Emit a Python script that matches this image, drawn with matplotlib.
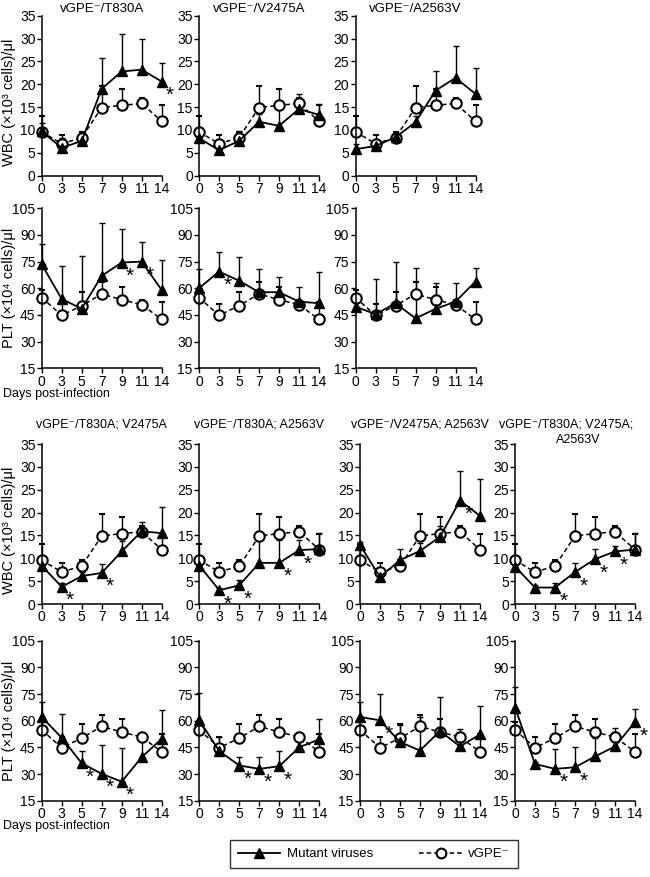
import numpy as np
import matplotlib.pyplot as plt
from matplotlib.lines import Line2D

plt.rcParams['font.family'] = ['Liberation Sans', 'DejaVu Sans']

days = [0, 3, 5, 7, 9, 11, 14]

# vGPE- control (same in every panel)
ctrl_wbc = [9.6, 7.0, 8.3, 14.9, 15.4, 15.8, 11.9]
ctrl_wbc_top = [13.1, 9.0, 9.6, 19.7, 19.0, 17.1, 15.4]
ctrl_plt = [54.8, 44.8, 50.2, 56.8, 53.6, 50.8, 42.5]
ctrl_plt_top = [59.0, 51.0, 58.0, 63.4, 60.8, 53.2, 52.5]

# mutant viruses
t830a_wbc = [9.7, 6.1, 7.6, 19.0, 22.8, 23.2, 20.6]
t830a_wbc_top = [11.5, 8.3, 9.2, 25.8, 31.1, 30.0, 24.7]
t830a_plt = [73.5, 54.0, 48.5, 67.0, 74.5, 75.0, 59.0]
t830a_plt_top = [85.0, 72.5, 78.0, 96.5, 93.5, 86.0, 76.0]

v2475a_wbc = [8.2, 5.6, 7.6, 11.8, 10.9, 14.6, 13.3]
v2475a_wbc_top = [9.3, 6.5, 9.8, 13.5, 14.5, 17.8, 15.6]
v2475a_plt = [60.0, 69.4, 64.3, 57.8, 57.8, 52.5, 51.6]
v2475a_plt_top = [70.9, 80.6, 77.8, 70.9, 66.2, 60.6, 69.4]

a2563v_wbc = [5.8, 6.5, 8.4, 11.7, 18.6, 21.4, 17.9]
a2563v_wbc_top = [7.0, 7.5, 9.3, 13.0, 23.0, 28.4, 23.6]
a2563v_plt = [49.7, 45.4, 51.6, 43.1, 48.4, 52.5, 63.8]
a2563v_plt_top = [52.0, 65.0, 75.0, 71.3, 63.2, 62.8, 71.3]

t830a_v2475a_wbc = [8.4, 3.75, 6.1, 6.8, 11.5, 15.9, 15.5]
t830a_v2475a_wbc_top = [10.0, 4.5, 7.0, 8.8, 13.7, 18.0, 21.3]
t830a_v2475a_plt = [62.1, 50.4, 36.1, 30.1, 25.7, 39.5, 49.8]
t830a_v2475a_plt_top = [70.6, 64.0, 43.2, 46.6, 44.8, 49.5, 65.8]

t830a_a2563v_wbc = [8.4, 3.0, 4.1, 9.0, 9.0, 11.8, 12.0]
t830a_a2563v_wbc_top = [10.0, 3.5, 5.2, 14.1, 14.1, 14.0, 15.5]
t830a_a2563v_plt = [60.2, 42.9, 34.8, 32.9, 34.4, 45.1, 49.5]
t830a_a2563v_plt_top = [75.5, 50.8, 39.5, 39.5, 43.2, 53.0, 60.8]

v2475a_a2563v_wbc = [12.9, 5.9, 9.6, 11.6, 14.7, 22.6, 19.3]
v2475a_a2563v_wbc_top = [13.5, 6.5, 12.0, 13.3, 17.1, 29.0, 27.3]
v2475a_a2563v_plt = [62.1, 60.2, 48.0, 43.2, 54.2, 45.5, 52.3]
v2475a_a2563v_plt_top = [70.6, 74.9, 57.4, 62.1, 73.4, 55.5, 68.3]

triple_wbc = [8.2, 3.6, 3.6, 7.0, 9.8, 11.5, 11.9]
triple_wbc_top = [9.0, 4.2, 4.6, 9.0, 12.1, 12.7, 15.5]
triple_plt = [67.4, 35.7, 32.9, 33.8, 39.9, 45.5, 59.3]
triple_plt_top = [79.0, 37.0, 44.2, 45.1, 50.0, 56.0, 66.8]

# day indices marked with *
stars_wbc = [[6], [], [], [1, 3], [1, 2, 4, 5], [5], [2, 3, 4, 5]]
stars_plt = [[4, 5], [1], [], [2, 3, 4], [2, 3, 4], [1], [2, 3, 6]]

titles = ["vGPE\u207b/T830A", "vGPE\u207b/V2475A", "vGPE\u207b/A2563V",
          "vGPE\u207b/T830A; V2475A", "vGPE\u207b/T830A; A2563V",
          "vGPE\u207b/V2475A; A2563V", "vGPE\u207b/T830A; V2475A;"]
wbc = [t830a_wbc, v2475a_wbc, a2563v_wbc, t830a_v2475a_wbc, t830a_a2563v_wbc,
       v2475a_a2563v_wbc, triple_wbc]
wbc_top = [t830a_wbc_top, v2475a_wbc_top, a2563v_wbc_top, t830a_v2475a_wbc_top,
           t830a_a2563v_wbc_top, v2475a_a2563v_wbc_top, triple_wbc_top]
plt_vals = [t830a_plt, v2475a_plt, a2563v_plt, t830a_v2475a_plt, t830a_a2563v_plt,
            v2475a_a2563v_plt, triple_plt]
plt_top = [t830a_plt_top, v2475a_plt_top, a2563v_plt_top, t830a_v2475a_plt_top,
           t830a_a2563v_plt_top, v2475a_a2563v_plt_top, triple_plt_top]

W, H = 650, 877
fig = plt.figure(figsize=(6.5, 8.77), dpi=100)

lefts = [41.7, 199, 355.5, 41.7, 199.3, 360, 515]
wbc_tops = [15.7] * 3 + [444] * 4
plt_tops = [208.3] * 3 + [640.7] * 4
aw, ah = 120, 160


def add_ax(left, top):
    return fig.add_axes([left / W, 1 - (top + ah) / H, aw / W, ah / H])


def draw(ax, mut, mut_top, ctrl, ctrl_top, stars, ylim, yticks):
    x = np.arange(len(days))
    ctrl = np.array(ctrl)
    mut = np.array(mut)
    ax.errorbar(x, ctrl, yerr=[np.zeros(len(x)), np.array(ctrl_top) - ctrl],
                fmt='o', ls='--', dashes=(3, 2), color='black', mfc='white',
                mec='black', ms=7.5, mew=1.5, lw=1.1, capsize=2.5,
                elinewidth=1, capthick=1)
    ax.errorbar(x, mut, yerr=[np.zeros(len(x)), np.array(mut_top) - mut],
                fmt='^-', color='black', ms=7, lw=1.3, capsize=2.5,
                elinewidth=1, capthick=1)
    for i in stars:
        ax.annotate('*', (x[i], mut[i]), xytext=(6, -10), textcoords='offset points',
                    fontsize=15, ha='center', va='center')
    for a in ax.lines + ax.collections:
        a.set_clip_on(False)
    ax.set_xlim(0, 6)
    ax.set_ylim(*ylim)
    ax.set_yticks(yticks)
    ax.set_xticks(x)
    ax.set_xticklabels([str(d) for d in days])
    for s in ['top', 'right']:
        ax.spines[s].set_visible(False)
    for s in ['left', 'bottom']:
        ax.spines[s].set_linewidth(1.1)
    ax.tick_params(direction='out', length=3.5, width=1, labelsize=10, pad=1)
    ax.patch.set_alpha(0)


for k in range(7):
    ax1 = add_ax(lefts[k], wbc_tops[k])
    draw(ax1, wbc[k], wbc_top[k], ctrl_wbc, ctrl_wbc_top, stars_wbc[k],
         (0, 35), range(0, 36, 5))
    ax2 = add_ax(lefts[k], plt_tops[k])
    draw(ax2, plt_vals[k], plt_top[k], ctrl_plt, ctrl_plt_top, stars_plt[k],
         (15, 105), range(15, 106, 15))
    if k in (0, 3):
        ax1.set_ylabel("WBC (\u00d710\u00b3 cells)/\u03bcl", fontsize=10.5)
        ax1.yaxis.set_label_coords(-0.215, 0.46)
        ax2.set_ylabel("PLT (\u00d710\u2074 cells)/\u03bcl", fontsize=10.5)
        ax2.yaxis.set_label_coords(-0.215, 0.5)

    # titles
    cx = (lefts[k] + aw / 2) / W
    if k < 3:
        fig.text(cx, 1 - 9 / H, titles[k], ha='center', va='center', fontsize=9.5)
    elif k < 6:
        fig.text(cx, 1 - 425 / H, titles[k], ha='center', va='center', fontsize=9)
    else:
        fig.text(566 / W, 1 - 425 / H, titles[k], ha='center', va='center', fontsize=9)
        fig.text(578 / W, 1 - 440 / H, "A2563V", ha='center', va='center', fontsize=9)

fig.text(3 / W, 1 - 393.5 / H, "Days post-infection", ha='left', va='center', fontsize=9)
fig.text(3 / W, 1 - 825.5 / H, "Days post-infection", ha='left', va='center', fontsize=9)

handles = [Line2D([], [], color='black', marker='^', ms=7, lw=1.3),
           Line2D([], [], color='black', marker='o', ms=7, mfc='white', mew=1.5,
                  lw=1.1, ls='--', dashes=(3, 2))]
leg = fig.legend(handles, ["Mutant viruses", "vGPE\u207b"], loc='center',
                 bbox_to_anchor=(374 / W, 1 - 854 / H), ncol=2, fontsize=9.5,
                 frameon=True, fancybox=False, handlelength=3.2, columnspacing=3.5,
                 borderpad=0.6, handletextpad=0.5)
leg.get_frame().set_edgecolor('black')
leg.get_frame().set_linewidth(1)

fig.savefig("out.png", dpi=100)
